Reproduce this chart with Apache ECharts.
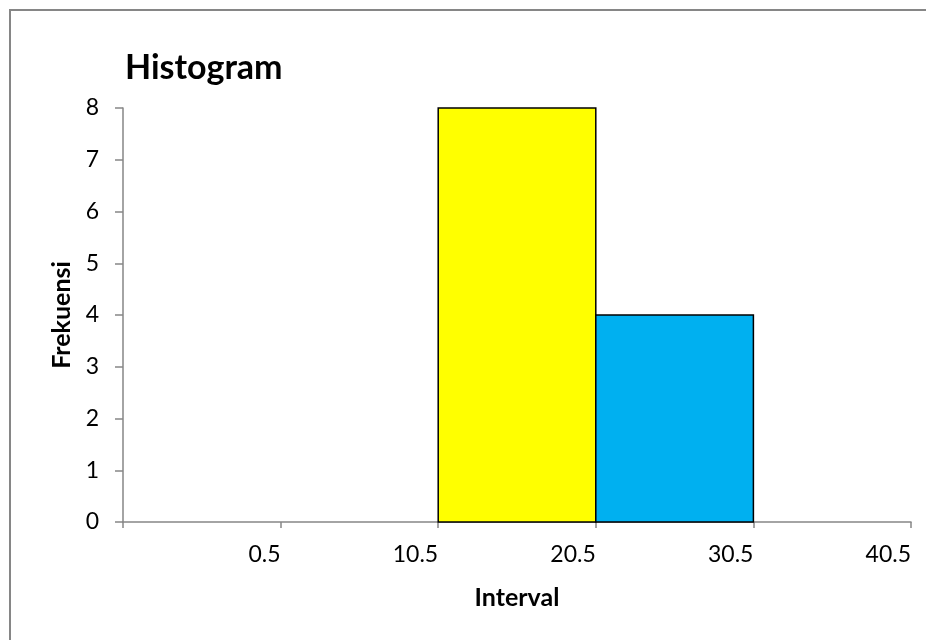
<!DOCTYPE html>
<html>
<head>
<meta charset="utf-8">
<script src="https://cdn.jsdelivr.net/npm/echarts@6/dist/echarts.min.js"></script>
<style>html,body{margin:0;padding:0;background:#fff;}#chart{width:926px;height:640px;}</style>
</head>
<body>
<div id="chart"></div>
<script>
const titleText = 'Histogram';
const xAxisName = 'Interval';
const yAxisName = 'Frekuensi';
const tickLabels = ['0.5', '10.5', '20.5', '30.5', '40.5'];
const frequencies = [0, 0, 8, 4, 0];
const barColors = ['#FFFF00', '#FFFF00', '#FFFF00', '#00B0F0', '#00B0F0'];

const FONT = 'Lato';
const chart = echarts.init(document.getElementById('chart'), null, {renderer: 'canvas'});
const data = frequencies.map((f, i) => [i, f]);

chart.setOption({
  animation: false,
  backgroundColor: '#fff',
  graphic: [{
    type: 'rect', silent: true,
    shape: {x: 10, y: 10, width: 960, height: 680},
    style: {fill: 'none', stroke: '#868686', lineWidth: 2}
  }],
  title: {
    text: titleText, left: 120, top: 46,
    textStyle: {fontFamily: FONT, fontWeight: 'bold', fontSize: 34, color: '#000'}
  },
  grid: {left: 123, right: 15, top: 108, bottom: 118, containLabel: false},
  xAxis: {
    type: 'value', min: 0, max: frequencies.length, interval: 1,
    name: xAxisName, nameLocation: 'middle', nameGap: 63,
    nameTextStyle: {fontFamily: FONT, fontWeight: 'bold', fontSize: 25, color: '#000'},
    axisLine: {show: true, lineStyle: {color: '#868686', width: 1.5}},
    axisTick: {show: true, length: 6, lineStyle: {color: '#868686', width: 1.5}},
    splitLine: {show: false},
    axisLabel: {
      fontFamily: FONT, fontSize: 23, color: '#000', margin: 21, align: 'right',
      showMinLabel: true, showMaxLabel: true,
      formatter: v => (v >= 1 ? tickLabels[Math.round(v) - 1] : '')
    }
  },
  yAxis: {
    type: 'value', min: 0, max: 8, interval: 1,
    name: yAxisName, nameLocation: 'middle', nameGap: 48,
    nameTextStyle: {fontFamily: FONT, fontWeight: 'bold', fontSize: 25, color: '#000'},
    axisLine: {show: true, lineStyle: {color: '#868686', width: 1.5}},
    axisTick: {show: true, length: 8, lineStyle: {color: '#868686', width: 1.5}},
    splitLine: {show: false},
    axisLabel: {fontFamily: FONT, fontSize: 23, color: '#000', margin: 24}
  },
  series: [{
    type: 'custom',
    data: data,
    encode: {x: 0, y: 1},
    renderItem: function (params, api) {
      const i = api.value(0);
      const f = api.value(1);
      if (!f) return null;
      const p0 = api.coord([i, 0]);
      const p1 = api.coord([i + 1, f]);
      return {
        type: 'rect',
        shape: {x: p0[0], y: p1[1], width: p1[0] - p0[0], height: p0[1] - p1[1]},
        style: {fill: barColors[i], stroke: '#000', lineWidth: 1.5}
      };
    }
  }]
});
</script>
</body>
</html>
